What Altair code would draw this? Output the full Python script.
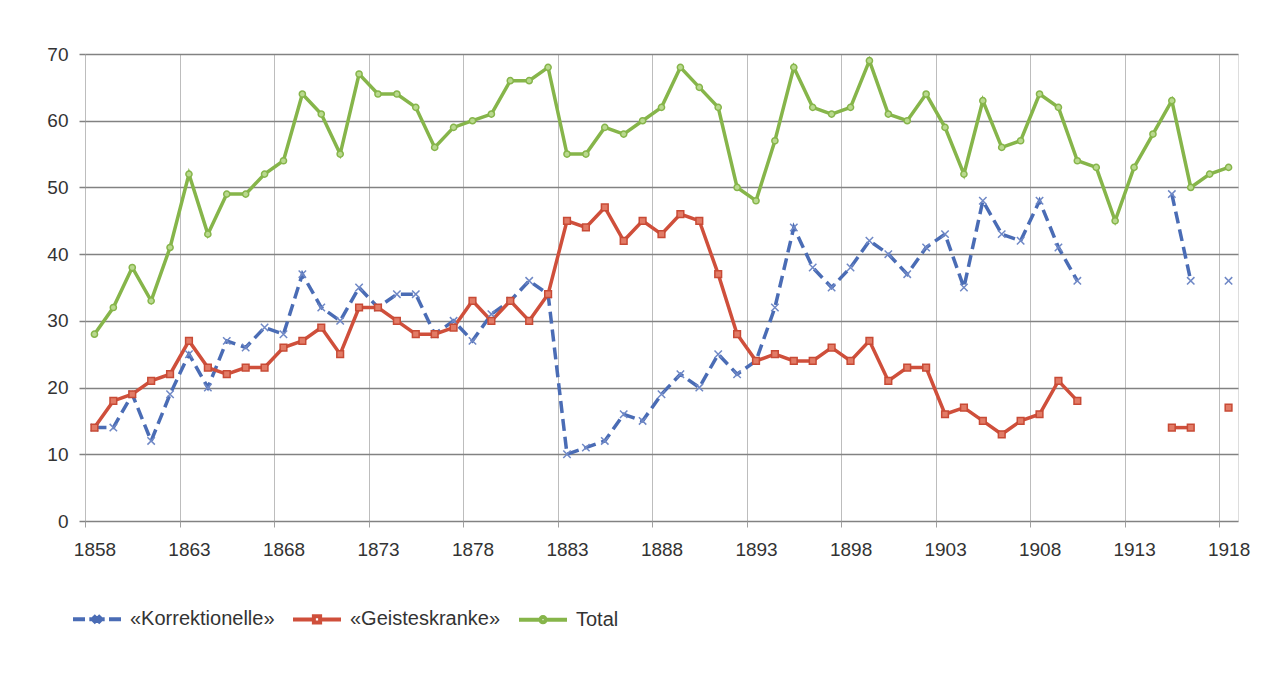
import altair as alt
import pandas as pd

years = list(range(1858, 1919))

korrektionelle = [14, 14, 19, 12, 19, 25, 20, 27, 26, 29, 28, 37, 32, 30, 35, 32, 34, 34, 28, 30,
                  27, 31, 33, 36, 34, 10, 11, 12, 16, 15, 19, 22, 20, 25, 22, 24, 32, 44, 38, 35,
                  38, 42, 40, 37, 41, 43, 35, 48, 43, 42, 48, 41, 36, None, None, None, None, 49, 36, None,
                  36]
geisteskranke = [14, 18, 19, 21, 22, 27, 23, 22, 23, 23, 26, 27, 29, 25, 32, 32, 30, 28, 28, 29,
                 33, 30, 33, 30, 34, 45, 44, 47, 42, 45, 43, 46, 45, 37, 28, 24, 25, 24, 24, 26,
                 24, 27, 21, 23, 23, 16, 17, 15, 13, 15, 16, 21, 18, None, None, None, None, 14, 14, None,
                 17]
total = [28, 32, 38, 33, 41, 52, 43, 49, 49, 52, 54, 64, 61, 55, 67, 64, 64, 62, 56, 59,
         60, 61, 66, 66, 68, 55, 55, 59, 58, 60, 62, 68, 65, 62, 50, 48, 57, 68, 62, 61,
         62, 69, 61, 60, 64, 59, 52, 63, 56, 57, 64, 62, 54, 53, 45, 53, 58, 63, 50, 52,
         53]

series_names = ["«Korrektionelle»", "«Geisteskranke»", "Total"]
series_colors = ["#4a6cb5", "#cf4f3b", "#86b54a"]
x_tick_labels = [1858, 1863, 1868, 1873, 1878, 1883, 1888, 1893, 1898, 1903, 1908, 1913, 1918]
y_ticks = [0, 10, 20, 30, 40, 50, 60, 70]

rows = []
for name, vals in zip(series_names, [korrektionelle, geisteskranke, total]):
    seg = 0
    for yr, v in zip(years, vals):
        if v is None:
            seg += 1
            continue
        rows.append({"year": yr, "value": v, "series": name, "seg": seg})
df = pd.DataFrame(rows)

FONT = "Liberation Sans"

x_enc = alt.X(
    "year:Q",
    scale=alt.Scale(domain=[1857.5, 1918.5], nice=False, zero=False),
    axis=alt.Axis(
        values=[y - 0.5 for y in x_tick_labels],
        labelExpr="format(datum.value + 0.5, 'd')",
        labelOffset=9.5,
        labelFlush=False,
        labelOverlap=False,
        grid=True, gridColor="#bdbdbd", gridWidth=1,
        ticks=True, tickColor="#a0a0a0", tickSize=6, tickWidth=1,
        domain=False,
        labelFontSize=19, labelColor="#333333", labelFont=FONT, labelPadding=13,
        title=None,
    ),
)
y_enc = alt.Y(
    "value:Q",
    scale=alt.Scale(domain=[0, 70], nice=False),
    axis=alt.Axis(
        values=y_ticks,
        grid=True, gridColor="#828282", gridWidth=1.5,
        ticks=True, tickColor="#828282", tickSize=6, tickWidth=1.5,
        domain=False,
        labelFontSize=19, labelColor="#333333", labelFont=FONT, labelPadding=11,
        title=None,
    ),
)

base = alt.Chart(df)

def sel(name):
    return base.transform_filter(alt.datum.series == name)

line_k = sel(series_names[0]).mark_line(
    color=series_colors[0], strokeWidth=3.5, strokeDash=[12, 6], strokeCap="butt"
).encode(x=x_enc, y=y_enc, detail="seg:N")
line_g = sel(series_names[1]).mark_line(
    color=series_colors[1], strokeWidth=3.5
).encode(x=x_enc, y=y_enc, detail="seg:N")
line_t = sel(series_names[2]).mark_line(
    color=series_colors[2], strokeWidth=3.5
).encode(x=x_enc, y=y_enc, detail="seg:N")

pt_k = sel(series_names[0]).mark_point(
    shape="M-1,-1L1,1M-1,1L1,-1", filled=False, size=55, stroke="#6f88c6", strokeWidth=1.5, opacity=1
).encode(x=x_enc, y=y_enc)
pt_g = sel(series_names[1]).mark_point(
    shape="square", filled=True, size=45, fill="#e27b66", stroke="#c84a35", strokeWidth=1.5, opacity=1
).encode(x=x_enc, y=y_enc)
pt_t = sel(series_names[2]).mark_point(
    shape="circle", filled=True, size=38, fill="#b9d98e", stroke="#86b54a", strokeWidth=1.5, opacity=1
).encode(x=x_enc, y=y_enc)

legend_paths = [
    "M-1,0H-0.5M-0.32,0H0.32M0.5,0H1M-0.15,-0.15L0.15,0.15M-0.15,0.15L0.15,-0.15",
    "M-1,0H-0.13M0.13,0H1M-0.13,-0.13H0.13V0.13H-0.13Z",
    "M-1,0H-0.11M0.11,0H1M-0.11,0A0.11,0.11,0,1,0,0.11,0A0.11,0.11,0,1,0,-0.11,0Z",
]

leg = alt.Legend(
    title=None, orient="none", legendX=-14, legendY=539, direction="horizontal",
    symbolSize=2304, symbolStrokeWidth=4, symbolOpacity=1,
    labelFontSize=20, labelColor="#333333", labelFont=FONT, labelOffset=7,
    columnPadding=10,
)

legend_layer = base.mark_point(opacity=0, filled=False).encode(
    x=x_enc, y=y_enc,
    color=alt.Color("series:N", scale=alt.Scale(domain=series_names, range=series_colors), legend=leg),
    shape=alt.Shape("series:N", scale=alt.Scale(domain=series_names, range=legend_paths), legend=leg),
)

chart = alt.layer(
    legend_layer, line_k, line_g, line_t, pt_k, pt_g, pt_t
).properties(
    width=1153, height=467,
    padding={"left": 77, "top": 46, "right": 30, "bottom": 150},
    autosize=alt.AutoSizeParams(type="none"),
).configure_view(stroke=None).configure(font=FONT, background="#ffffff")

chart.save("out.html", embed_options={"renderer": "svg", "actions": False})
